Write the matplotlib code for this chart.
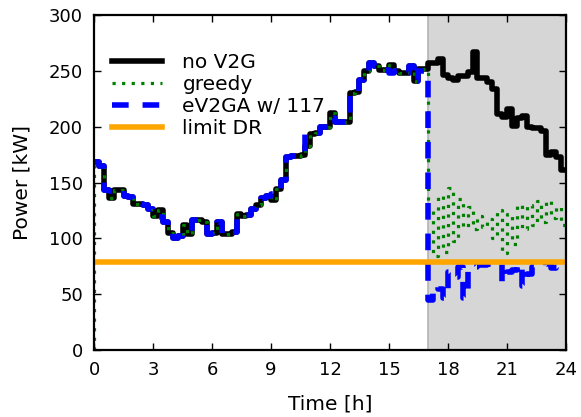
import numpy as np
import matplotlib
matplotlib.use("Agg")
import matplotlib.pyplot as plt

# 15-min steps, 0h .. 23.75h
no_v2g = [168, 165, 143, 136, 143, 143, 138, 137, 131, 131, 130, 126,
          120, 125, 115, 105, 100, 102, 112, 104, 116, 116, 115, 104,
          105, 115, 104, 104, 106, 122, 120, 121, 126, 130, 136, 138,
          134, 144, 152, 173, 174, 174, 175, 183, 193, 194, 200, 200,
          212, 204, 204, 204, 230, 231, 242, 250, 257, 254, 251, 251,
          255, 250, 248, 248, 254, 241, 252, 252, 257, 257, 261, 246,
          244, 242, 245, 245, 249, 267, 244, 244, 240, 234, 211, 209,
          216, 201, 208, 210, 200, 199, 199, 196, 175, 177, 173, 161]

ev2ga = [168, 165, 143, 142, 143, 143, 138, 137, 131, 131, 130, 126,
         120, 119, 115, 105, 100, 102, 103, 104, 116, 116, 115, 104,
         105, 115, 104, 104, 106, 117, 120, 121, 126, 130, 136, 138,
         140, 144, 152, 173, 174, 174, 175, 193, 193, 194, 200, 200,
         208, 204, 204, 204, 230, 231, 242, 250, 257, 254, 251, 251,
         248, 250, 248, 248, 254, 241, 250, 250,
         45, 57, 55, 47, 70, 65, 74, 47, 74, 74, 76, 76,
         77, 76, 77, 61, 70, 72, 77, 57, 68, 74, 75, 75,
         77, 73, 74, 76]

# greedy follows no V2G until 17h, then jumps up and down every step
greedy_late = [125, 84, 138, 88, 145, 98, 135, 110, 128, 108, 120, 110,
               117, 100, 125, 87, 122, 95, 130, 108, 130, 112, 133, 115,
               133, 118, 128, 112]
greedy = no_v2g[:68] + greedy_late

limit_dr = 79

hours = np.arange(97) * 0.25

plt.rcParams['font.family'] = 'DejaVu Sans'
fig = plt.figure(figsize=(5.81, 4.17), dpi=100)
ax = fig.add_axes([94 / 581, 1 - 350 / 417, 472 / 581, 335 / 417])

ax.axvspan(17, 24, facecolor='#d6d6d6', edgecolor='#b4b4b4', lw=1.2, zorder=0)

ax.plot(hours, no_v2g + no_v2g[-1:], drawstyle='steps-post', color='black',
        lw=4, label='no V2G')
ax.plot(np.r_[0.0, hours], [0] + greedy + greedy[-1:], drawstyle='steps-post',
        color='green', lw=2.3, linestyle=(0, (1, 2)), label='greedy')
ax.plot(hours, ev2ga + ev2ga[-1:], drawstyle='steps-post', color='blue',
        lw=4, linestyle=(0, (3, 2.5)), label='eV2GA w/ 117')
ax.plot([0, 24], [limit_dr, limit_dr], color='orange', lw=4, label='limit DR')

ax.set_xlim(0, 24)
ax.set_ylim(0, 300)
ax.set_xticks(range(0, 25, 3))
ax.set_yticks(range(0, 301, 50))
ax.tick_params(direction='in', length=5, width=1, top=True, right=True,
               labelsize=13, pad=8)
for s in ax.spines.values():
    s.set_linewidth(1.6)
ax.set_xlabel('Time [h]', fontsize=14.5, labelpad=11)
ax.set_ylabel('Power [kW]', fontsize=14.5, labelpad=12)

ax.legend(loc='upper left', bbox_to_anchor=(18 / 472, 0.887), frameon=False,
          fontsize=14.5, handlelength=2.5, handletextpad=1.0,
          labelspacing=0.15, borderaxespad=0, borderpad=0)

fig.savefig('out.png', dpi=100)
